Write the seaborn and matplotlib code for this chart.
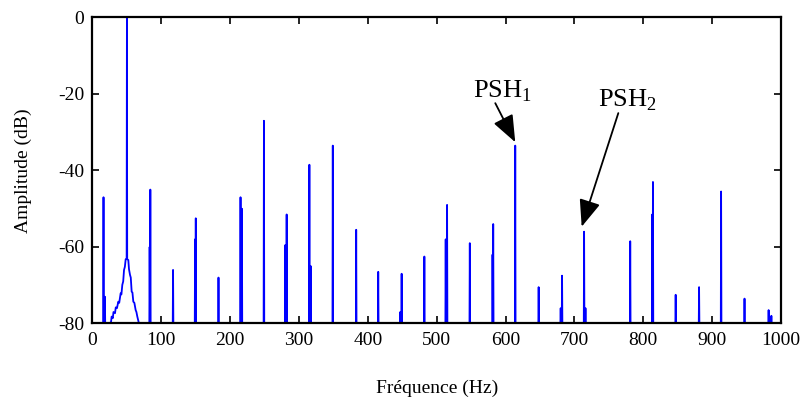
import numpy as np
import pandas as pd
import matplotlib
matplotlib.use("Agg")
import matplotlib.pyplot as plt
import seaborn as sns

# ---- data ----
peak_freq = [16, 50, 84, 117, 150, 183, 215, 249, 282, 315, 349, 383, 415, 449,
             482, 515, 548, 582, 614, 648, 682, 714, 781, 814, 847, 881, 913, 947, 982]
peak_db = [-47, 0, -45, -66, -52.5, -68, -47, -27, -51.5, -38.5, -33.5, -55.5, -66.5, -67,
           -62.5, -49, -59, -54, -33.5, -70.5, -67.5, -56, -58.5, -43, -72.5, -70.5, -45.5, -73.5, -76.5]

side_freq = [18, 83, 149, 217, 280, 317, 447, 513, 581, 680, 716, 813, 986]
side_db = [-73, -60, -58, -50, -59.5, -65, -77, -58, -62, -76, -76, -51.5, -78]

hump_freq = [25.4, 27.0, 27.8, 29.5, 30.5, 32.7, 33.8, 35.5, 37.5, 38.8, 40.9, 42.0,
             43.3, 44.6, 45.8, 47.0, 48.2,
             52.0, 53.0, 54.5, 55.6, 56.9, 58.0, 59.3, 60.8, 62.7, 63.8, 65.1, 67.5]
hump_db = [-80, -79.5, -78.2, -78.6, -77.0, -77.3, -75.8, -76.0, -74.3, -74.6, -72.1, -72.4,
           -69.9, -69.0, -66.0, -65.2, -63.2,
           -63.4, -65.8, -67.3, -68.0, -71.7, -71.9, -74.3, -74.6, -76.5, -77.0, -78.2, -80]

x_ticks = [0, 100, 200, 300, 400, 500, 600, 700, 800, 900, 1000]
y_ticks = [-80, -60, -40, -20, 0]

# ---- build the spectrum polyline ----
floor = -80
pts = []
spikes = sorted(zip(peak_freq + side_freq, peak_db + side_db))
for f, d in spikes:
    if f == 50:
        continue
    pts += [(f - 0.45, floor), (f, d), (f + 0.45, floor)]
hump = list(zip(hump_freq, hump_db))
hump_pts = [p for p in hump if p[0] < 50] + [(49.6, -63.0), (50, 0), (50.4, -63.2)] + [p for p in hump if p[0] > 50]
pts += hump_pts
pts.sort(key=lambda p: p[0])
pts = [(0, floor)] + pts + [(1000, floor)]
df = pd.DataFrame(pts, columns=["f", "db"])

# ---- style ----
sns.set_style("ticks")
plt.rcParams["font.family"] = ["Liberation Serif", "DejaVu Serif"]
plt.rcParams["mathtext.fontset"] = "custom"
plt.rcParams["mathtext.rm"] = "Liberation Serif"
plt.rcParams["axes.unicode_minus"] = False
plt.rcParams["text.color"] = "black"
plt.rcParams["axes.labelcolor"] = "black"
plt.rcParams["xtick.color"] = "black"
plt.rcParams["ytick.color"] = "black"

fig = plt.figure(figsize=(8.05, 4.01), dpi=100)
ax = fig.add_axes([0.1149, 0.1933, 0.9702 - 0.1149, 0.9564 - 0.1933])

sns.lineplot(data=df, x="f", y="db", sort=False, estimator=None,
             color=(0, 0, 1), lw=1.3, ax=ax)

ax.set_xlim(0, 1000)
ax.set_ylim(-80, 0)
ax.set_xticks(x_ticks)
ax.set_yticks(y_ticks)
ax.set_xticklabels([str(t) for t in x_ticks])
ax.set_yticklabels([str(t) for t in y_ticks])
ax.tick_params(direction="in", length=5, width=1.2, top=True, right=True,
               labelsize=14, colors="black", labelcolor="black", pad=6)
for s in ax.spines.values():
    s.set_linewidth(1.6)
    s.set_color("black")
    s.set_visible(True)

ax.set_xlabel("Fréquence (Hz)", fontsize=14, labelpad=22, color="black")
ax.set_ylabel("Amplitude (dB)", fontsize=14, labelpad=19, color="black")

arrow = dict(arrowstyle="-|>,head_length=0.83,head_width=0.33", color="black",
             lw=1.3, mutation_scale=20, shrinkA=0, shrinkB=0)
ax.annotate("", xy=(614, -32.6), xytext=(585, -22.4), arrowprops=arrow)
ax.annotate("", xy=(710.5, -54.7), xytext=(763.7, -25.0), arrowprops=arrow)
ax.text(552, -20.8, r"PSH$_\mathrm{1}$", fontsize=19, ha="left", va="baseline", color="black")
ax.text(734, -23.4, r"PSH$_\mathrm{2}$", fontsize=19, ha="left", va="baseline", color="black")

if ax.get_legend() is not None:
    ax.get_legend().remove()

fig.savefig("out.png", dpi=100)
